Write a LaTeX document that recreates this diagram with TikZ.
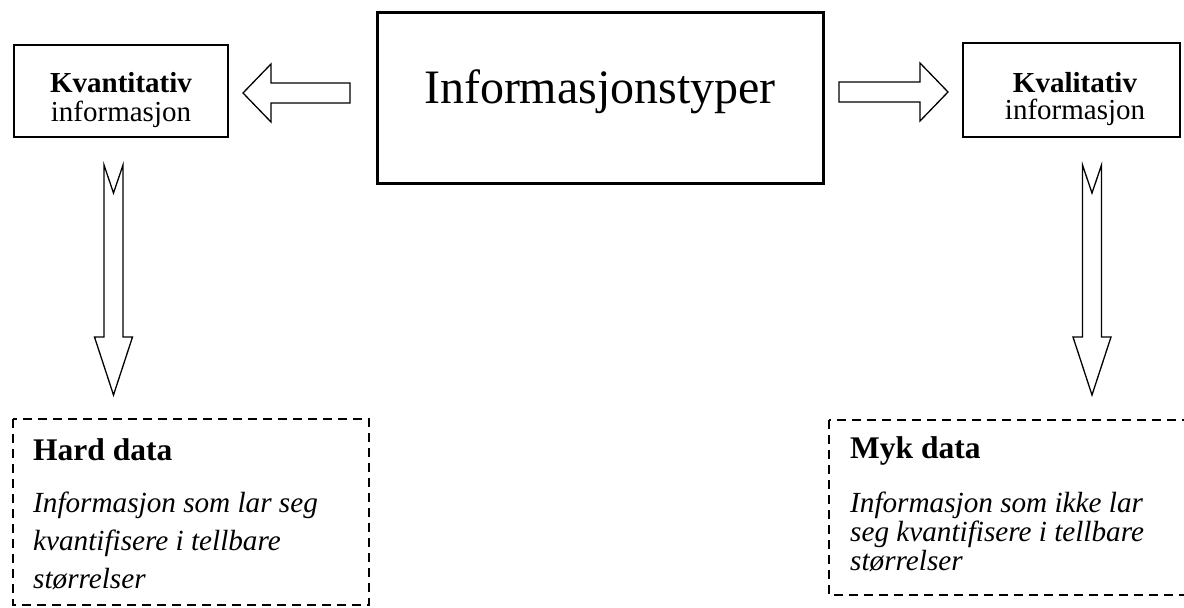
\documentclass[tikz,border=0pt]{standalone}
\usepackage{fontspec}
\setmainfont{Liberation Serif}
\usetikzlibrary{calc}
\begin{document}
\begin{tikzpicture}[x=1pt,y=-1pt,
  box/.style={draw, line width=1.3pt, inner sep=0pt},
  mainbox/.style={draw, line width=3pt, inner sep=0pt},
  dbox/.style={draw, line width=2pt, dash pattern=on 9pt off 6pt},
  blockarrow/.style={draw, line width=1.3pt, fill=white, line join=miter},
  lbl/.style={inner sep=0pt, anchor=base},
  boldlbl/.style={lbl, font=\fontsize{29}{32}\selectfont\bfseries},
  plainlbl/.style={lbl, font=\fontsize{29}{32}\selectfont},
  head/.style={inner sep=0pt, anchor=base west, font=\fontsize{31.5}{36}\selectfont\bfseries},
  body/.style={inner sep=0pt, anchor=base west, font=\fontsize{29.2}{34}\selectfont\itshape}]
\useasboundingbox (0,0) rectangle (1184,608);

% central box
\node[mainbox, minimum width=446pt, minimum height=171pt] (main) at (600,97.5) {};
\node[lbl, font=\fontsize{48}{56}\selectfont] (mainT) at (600,103) {Informasjonstyper};

% left box
\node[box, minimum width=214pt, minimum height=92pt] (kvant) at (121,91) {};
\node[boldlbl] (kvantA) at (121,92) {Kvantitativ};
\node[plainlbl] (kvantB) at (121,121) {informasjon};

% right box
\node[box, minimum width=217pt, minimum height=94pt] (kval) at (1071.5,90) {};
\node[boldlbl] (kvalA) at (1075,92) {Kvalitativ};
\node[plainlbl] (kvalB) at (1075,119) {informasjon};

% horizontal block arrows
\coordinate (lTail) at (350,93);
\coordinate (lTip) at (243,93);
\draw[blockarrow] ($(lTail)+(0,-10)$) -- ($(lTip)+(28,-10)$) -- ($(lTip)+(28,-29)$)
  -- (lTip) -- ($(lTip)+(28,29)$) -- ($(lTip)+(28,10)$) -- ($(lTail)+(0,10)$) -- cycle;

\coordinate (rTail) at (839,92);
\coordinate (rTip) at (948,92);
\draw[blockarrow] ($(rTail)+(0,-10)$) -- ($(rTip)+(-28,-10)$) -- ($(rTip)+(-28,-29)$)
  -- (rTip) -- ($(rTip)+(-28,29)$) -- ($(rTip)+(-28,10)$) -- ($(rTail)+(0,10)$) -- cycle;

% vertical notched block arrows
\coordinate (dlTail) at (113.5,165);
\coordinate (dlTip) at (113.5,395);
\draw[blockarrow] ($(dlTail)+(-9.5,0)$) -- ($(dlTail)+(0,28)$) -- ($(dlTail)+(9.5,0)$)
  -- ($(dlTip)+(9.5,-58)$) -- ($(dlTip)+(19,-58)$) -- (dlTip) -- ($(dlTip)+(-19,-58)$)
  -- ($(dlTip)+(-9.5,-58)$) -- cycle;

\coordinate (drTail) at (1092,165);
\coordinate (drTip) at (1092,395);
\draw[blockarrow] ($(drTail)+(-9.5,0)$) -- ($(drTail)+(0,28)$) -- ($(drTail)+(9.5,0)$)
  -- ($(drTip)+(9.5,-58)$) -- ($(drTip)+(19,-58)$) -- (drTip) -- ($(drTip)+(-19,-58)$)
  -- ($(drTip)+(-9.5,-58)$) -- cycle;

% dashed boxes
\draw[dbox] (13,419) rectangle (369,605);
\node[head] (hard) at (33,460) {Hard data};
\node[body] (hard1) at (33,512) {Informasjon som lar seg};
\node[body] (hard2) at (33,550) {kvantifisere i tellbare};
\node[body] (hard3) at (33,588) {størrelser};

\draw[dbox] (829,420) rectangle (1210,595);
\node[head] (myk) at (850,458) {Myk data};
\node[body] (myk1) at (850,512) {Informasjon som ikke lar};
\node[body] (myk2) at (850,541) {seg kvantifisere i tellbare};
\node[body] (myk3) at (850,570) {størrelser};
\end{tikzpicture}
\end{document}
